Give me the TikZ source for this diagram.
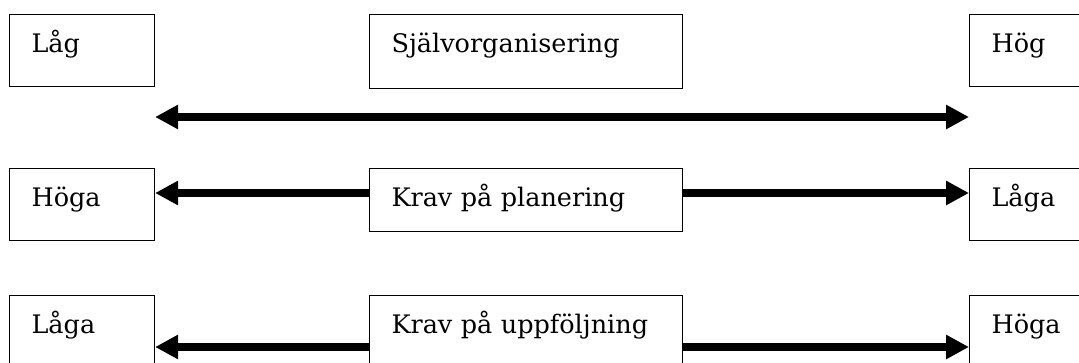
\documentclass[tikz,border=0pt]{standalone}
\usepackage{fontspec}
\setmainfont{DejaVu Serif}
\usetikzlibrary{arrows.meta}
\begin{document}
\begin{tikzpicture}[x=1pt,y=-1pt,
  box/.style={draw, line width=1.1pt, anchor=north west, inner xsep=22pt, inner ysep=0pt,
    align=left, text height=38pt, font=\fontsize{25.5}{30}\selectfont},
  wide/.style={text width=269pt},
  narrow/.style={text width=101pt},
  arr/.style={line width=7.5pt, -{Triangle[length=23pt,width=23pt]}},
  darr/.style={line width=7.5pt, {Triangle[length=23pt,width=23pt]}-{Triangle[length=23pt,width=23pt]}}]
\useasboundingbox (0,0) rectangle (1079,362);
\clip (0,0) rectangle (1079,362);

% row 1: self-organisation scale
\node[box, narrow, text depth=34pt] (lag)   at (9,14)   {Låg};
\node[box, wide,   text depth=36pt] (sjalv) at (369,14) {Självorganisering};
\node[box, narrow, text depth=34pt] (hog)   at (969,14) {Hög};

% row 2: planning demands
\node[box, narrow, text depth=34pt] (hogaA) at (9,168)   {Höga};
\node[box, wide,   text depth=25pt] (plan)  at (369,168) {Krav på planering};
\node[box, narrow, text depth=34pt] (lagaA) at (969,168) {Låga};

% row 3: follow-up demands
\node[box, narrow, text depth=50pt] (lagaB) at (9,295)   {Låga};
\node[box, wide,   text depth=50pt] (uppf)  at (369,295) {Krav på uppföljning};
\node[box, narrow, text depth=50pt] (hogaB) at (969,295) {Höga};

\coordinate (r1) at (0,117);
\coordinate (r2) at (0,193);
\coordinate (r3) at (0,347);

\draw[darr] (lag.east |- r1) -- (hog.west |- r1);
\draw[arr] (plan.west |- r2) -- (hogaA.east |- r2);
\draw[arr] (plan.east |- r2) -- (lagaA.west |- r2);
\draw[arr] (uppf.west |- r3) -- (lagaB.east |- r3);
\draw[arr] (uppf.east |- r3) -- (hogaB.west |- r3);
\end{tikzpicture}
\end{document}
